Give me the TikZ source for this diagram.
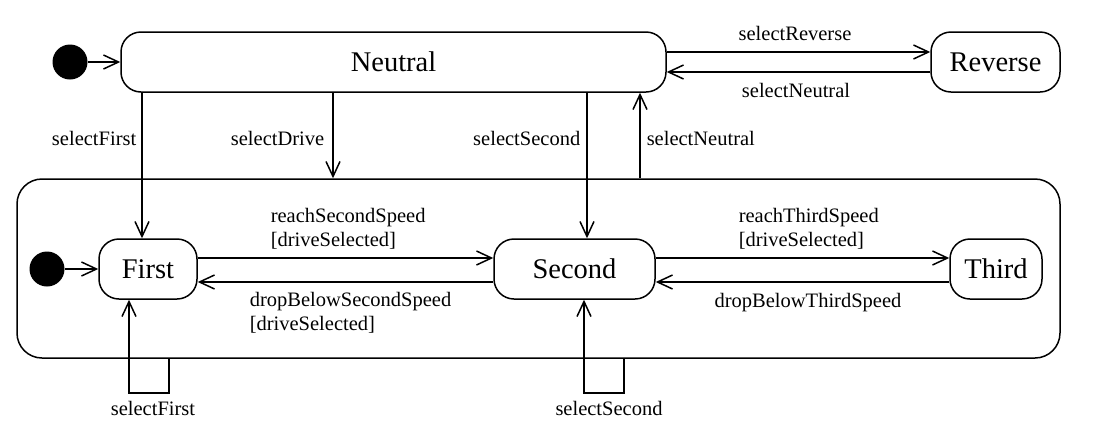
\documentclass[tikz,border=0pt]{standalone}
\usepackage{fontspec}
\setmainfont{Liberation Serif}
\usetikzlibrary{arrows.meta}

\begin{document}
\begin{tikzpicture}[x=1pt, y=-1pt, line width=1.5pt,
   state/.style={draw, rounded corners=20pt, minimum height=60pt, inner sep=0pt, font=\fontsize{28.5}{32}\selectfont},
   start/.style={circle, fill=black, minimum size=35pt, inner sep=0pt},
   lbl/.style={inner sep=0pt, font=\fontsize{20.5}{23.5}\selectfont, align=left},
   arr/.style={-{Straight Barb[length=15pt,width=14pt]}}]%
   \useasboundingbox (0,0) rectangle (1118,440);
   \node[start] (init) at (70,62) {};
   \node[state, minimum width=545pt] (neutral) at (393.5,62) {Neutral};
   \node[state, minimum width=129pt] (reverse) at (995.5,62) {Reverse};
   \node[draw, rounded corners=25pt, minimum width=1043pt, minimum height=179pt] (drive) at (538.5,268.5) {};
   \node[start] (init2) at (47,269) {};
   \node[state, minimum width=98pt] (first) at (148,269) {First};
   \node[state, minimum width=161pt] (second) at (574.5,269) {Second};
   \node[state, minimum width=92pt] (third) at (996,269) {Third};
   \node[lbl, anchor=base] (lRev) at (795,40) {selectReverse};
   \node[lbl, anchor=base] (lNeu) at (796,97) {selectNeutral};
   \node[lbl, anchor=base east] (lFirst) at (137,145) {selectFirst};
   \node[lbl, anchor=base east] (lDrive) at (325,145) {selectDrive};
   \node[lbl, anchor=base east] (lSecond) at (581,145) {selectSecond};
   \node[lbl, anchor=base west] (lBack) at (646,145) {selectNeutral};
   \node[lbl, anchor=base west] (lReach2) at (270,246) {reachSecondSpeed\\{[driveSelected]}};
   \node[lbl, anchor=base west] (lDrop2) at (249,330) {dropBelowSecondSpeed\\{[driveSelected]}};
   \node[lbl, anchor=base west] (lReach3) at (738,246) {reachThirdSpeed\\{[driveSelected]}};
   \node[lbl, anchor=base] (lDrop3) at (808,307) {dropBelowThirdSpeed};
   \node[lbl, anchor=base] (lLoop1) at (153,415) {selectFirst};
   \node[lbl, anchor=base] (lLoop2) at (609,415) {selectSecond};
   \draw[arr] (init) -- (neutral);
   \draw[arr] ([yshift=10pt]neutral.east) -- ([yshift=10pt]reverse.west);
   \draw[arr] ([yshift=-10pt]reverse.west) -- ([yshift=-10pt]neutral.east);
   \draw[arr] (neutral.south -| 142,0) -- (first.north -| 142,0);
   \draw[arr] (neutral.south -| 333,0) -- (drive.north -| 333,0);
   \draw[arr] (neutral.south -| 587,0) -- (second.north -| 587,0);
   \draw[arr] (drive.north -| 640,0) -- (neutral.south -| 640,0);
   \draw[arr] (init2) -- (first);
   \draw[arr] ([yshift=11pt]first.east) -- ([yshift=11pt]second.west);
   \draw[arr] ([yshift=-13pt]second.west) -- ([yshift=-13pt]first.east);
   \draw[arr] ([yshift=11pt]second.east) -- ([yshift=11pt]third.west);
   \draw[arr] ([yshift=-13pt]third.west) -- ([yshift=-13pt]second.east);
   \draw[arr] (drive.south -| 169,0) -- ++(0,34) -| (first.south -| 129,0);
   \draw[arr] (drive.south -| 624,0) -- ++(0,34) -| (second.south -| 584,0);
\end{tikzpicture}
\end{document}
